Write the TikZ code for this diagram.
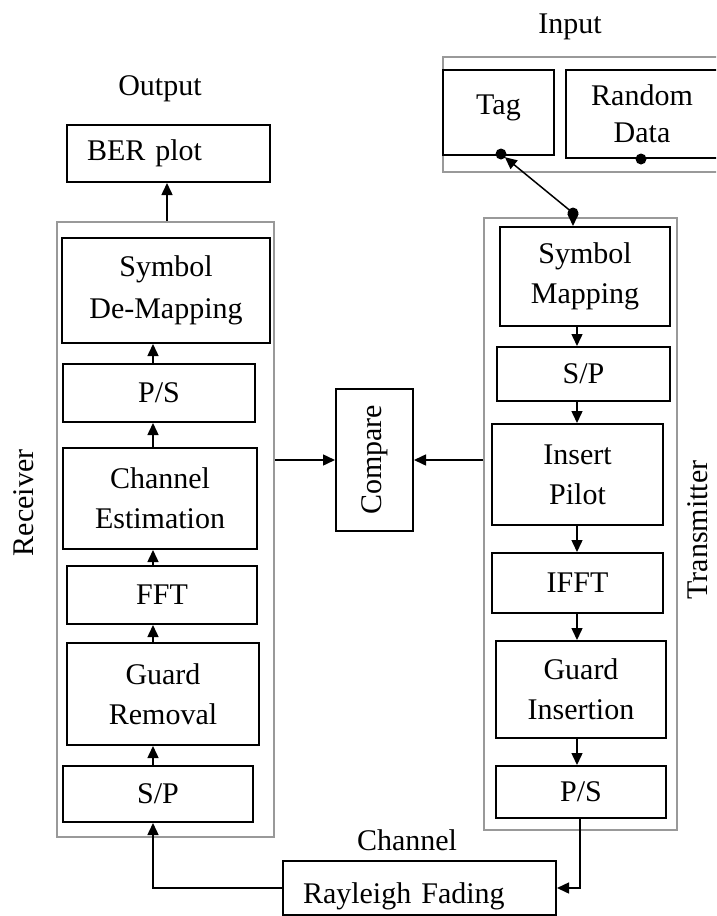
\documentclass[tikz,border=0pt]{standalone}
\usepackage{fontspec}
\setmainfont{Liberation Serif}
\usepackage{graphicx}
\usetikzlibrary{arrows.meta}
\begin{document}
\begin{tikzpicture}[x=1pt,y=-1pt,
  every node/.style={font=\fontsize{30}{40}\selectfont, inner sep=0pt},
  blk/.style={draw=black, line width=2pt, align=center},
  grp/.style={draw=black!40, line width=2pt},
  arr/.style={line width=1.5pt, -{Triangle[length=12pt,width=11pt]}},
  dotn/.style={circle, fill=black, minimum size=11pt, inner sep=0pt},
  lbl/.style={anchor=base}
]
\useasboundingbox (0,0) rectangle (716,916);
\clip (0,0) rectangle (716,916);

% containers
\node[grp, minimum width=287pt, minimum height=115pt] (igray) at (586.5,114.5) {};
\node[grp, minimum width=217pt, minimum height=615pt] (rgray) at (165.5,529.5) {};
\node[grp, minimum width=193pt, minimum height=612pt] (tgray) at (580.5,524) {};

% input
\node[blk, minimum width=111pt, minimum height=85pt, text height=20pt, text depth=17pt] (tag) at (498.5,112.5) {Tag};
\node[blk, minimum width=152pt, minimum height=88pt, font=\fontsize{30}{37}\selectfont] (rand) at (642,114) {Random\\Data};

% receiver
\node[blk, minimum width=203pt, minimum height=57pt, text width=163pt, inner xsep=20pt, align=left] (ber) at (168.5,153.5) {BER plot};
\node[blk, minimum width=208pt, minimum height=105pt, font=\fontsize{30}{42}\selectfont] (rsym) at (166,290.5) {Symbol\\De-Mapping};
\node[blk, minimum width=192pt, minimum height=58pt] (rps) at (159,393) {P/S};
\node[blk, minimum width=194pt, minimum height=101pt] (rche) at (160,498.5) {Channel\\Estimation};
\node[blk, minimum width=190pt, minimum height=58pt] (rfft) at (162,595) {FFT};
\node[blk, minimum width=192pt, minimum height=102pt] (rguard) at (163,694) {Guard\\Removal};
\node[blk, minimum width=190pt, minimum height=56pt] (rsp) at (158,794) {S/P};

% transmitter
\node[blk, minimum width=170pt, minimum height=99pt] (tsym) at (585,276.5) {Symbol\\Mapping};
\node[blk, minimum width=173pt, minimum height=54pt] (tsp) at (583.5,374) {S/P};
\node[blk, minimum width=171pt, minimum height=101pt] (tpilot) at (577.5,474.5) {Insert\\Pilot};
\node[blk, minimum width=171pt, minimum height=60pt] (tifft) at (577.5,583) {IFFT};
\node[blk, minimum width=170pt, minimum height=97pt] (tguard) at (581,689.5) {Guard\\Insertion};
\node[blk, minimum width=170pt, minimum height=52pt] (tps) at (581,792) {P/S};

% compare and channel
\node[blk, minimum width=77pt, minimum height=142pt] (cmp) at (374.5,460) {\rotatebox{90}{Compare}};
\node[blk, minimum width=273pt, minimum height=54pt, text width=233pt, inner xsep=20pt, align=left, text height=30pt, text depth=0pt] (ray) at (419.5,888) {Rayleigh Fading};

% labels
\node[lbl] (linput) at (570,33) {Input};
\node[lbl] (loutput) at (160,95) {Output};
\node[lbl] (lchannel) at (407,850) {Channel};
\node[rotate=90, anchor=base] (lrecv) at (33,503) {Receiver};
\node[rotate=90, anchor=base] (ltrans) at (707,530) {Transmitter};

% helper coordinates
\coordinate (rx) at (153,0);
\coordinate (bx) at (167,0);
\coordinate (tx) at (577,0);
\coordinate (px) at (580,0);
\coordinate (jx) at (573,213);

% receiver arrows
\draw[arr] (rsp.north -| rx) -- (rguard.south -| rx);
\draw[arr] (rguard.north -| rx) -- (rfft.south -| rx);
\draw[arr] (rfft.north -| rx) -- (rche.south -| rx);
\draw[arr] (rche.north -| rx) -- (rps.south -| rx);
\draw[arr] (rps.north -| rx) -- (rsym.south -| rx);
\draw[arr] (rgray.north -| bx) -- (ber.south -| bx);

% transmitter arrows
\draw[arr] (tsym.south -| tx) -- (tsp.north -| tx);
\draw[arr] (tsp.south -| tx) -- (tpilot.north -| tx);
\draw[arr] (tpilot.south -| tx) -- (tifft.north -| tx);
\draw[arr] (tifft.south -| tx) -- (tguard.north -| tx);
\draw[arr] (tguard.south -| tx) -- (tps.north -| tx);

% input link
\node[dotn] (jdot) at (jx) {};
\node[dotn] (tagdot) at (501,154) {};
\node[dotn] (randdot) at (641,159) {};
\draw[arr] (jdot.center) -- (tsym.north -| jdot);
\draw[arr, shorten >=5pt] (jdot.center) -- (tagdot.center);

% compare links
\draw[arr] (rgray.east |- cmp.west) -- (cmp.west);
\draw[arr] (tgray.west |- cmp.east) -- (cmp.east);

% channel links
\draw[arr] (tps.south -| px) |- (ray.east);
\draw[arr] (ray.west) -| (rsp.south -| rx);
\end{tikzpicture}
\end{document}
